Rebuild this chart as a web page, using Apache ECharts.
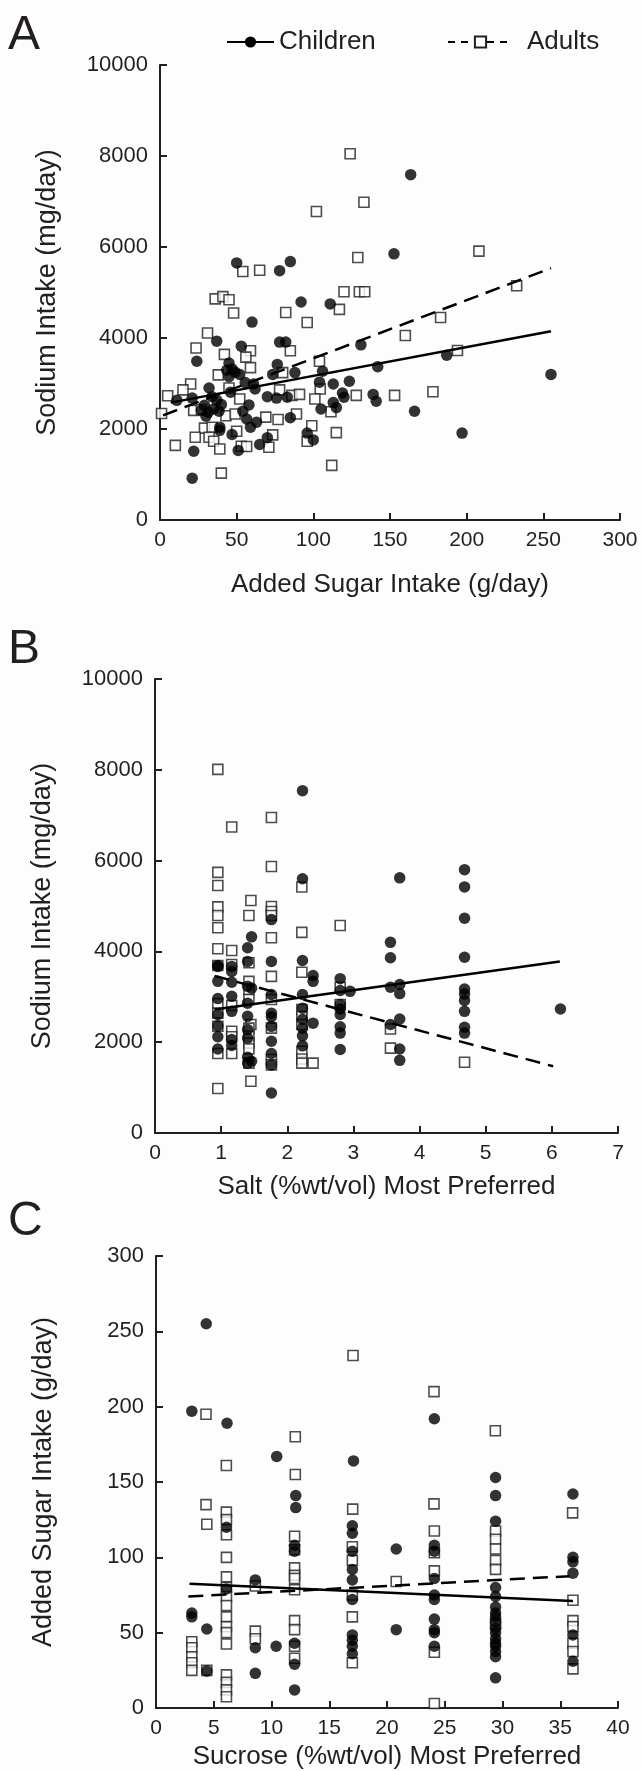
<!DOCTYPE html>
<html>
<head>
<meta charset="utf-8">
<script src="https://cdn.jsdelivr.net/npm/echarts@6/dist/echarts.min.js"></script>
<style>
html,body{margin:0;padding:0;background:#fdfdfd;}
#chart{width:642px;height:1771px;}
</style>
</head>
<body>
<div id="chart"></div>
<script>
// ---------- Panel A: Added sugar (g/day) vs Sodium (mg/day) ----------
const childrenA = [
 [50,5650],[78,5480],[85,5680],[92,4790],[111,4750],[60,4350],[37,3930],[53,3820],[78,3910],[82,3910],
 [24,3490],[45,3450],[43.5,3290],[47,3320],[49,3250],[45,3150],[52,3200],[76.5,3420],[73.5,3200],[88,3240],
 [106,3270],[55.6,3020],[61,2990],[62,2880],[32,2900],[46,2810],[11,2630],[21,2680],[34,2710],[37,2630],
 [40,2540],[29,2520],[27,2410],[31.5,2370],[30,2280],[35,2440],[38.5,2390],[58,2530],[54,2390],[56.5,2220],
 [59,2040],[63,2150],[70,2710],[76,2680],[83,2700],[85,2250],[104,3030],[113,2990],[105,2440],[113,2580],
 [39,2040],[39,1970],[47,1880],[51,1530],[65,1660],[70,1810],[96,1910],[100,1760],[22,1510],[21,920],
 [163.5,7590],[152.6,5850],[131,3850],[142,3370],[187,3620],[123.5,3050],[119,2790],[120,2700],[115,2470],
 [139,2760],[141,2610],[166,2390],[197,1910],[255,3200]
];
const adultsA = [
 [102,6780],[54,5460],[65,5490],[36,4860],[41,4910],[45,4840],[117,4630],[48,4550],[82,4560],[96,4340],
 [31,4110],[23.5,3780],[42,3640],[59,3720],[56,3580],[59,3350],[85,3720],[104,3490],[38,3190],[80,3240],
 [20,2990],[15,2860],[5,2730],[45,2900],[52,2660],[78,2860],[86,2740],[91,2760],[104.5,2880],[101,2660],
 [1,2340],[22,2410],[27,2430],[43,2290],[49,2330],[69,2260],[77,2210],[89,2330],[111.5,2380],[29,2020],
 [34,2040],[50,1950],[73.5,1870],[99,2070],[115,1920],[23,1820],[32,1820],[35,1730],[39,1560],[10,1640],
 [53,1620],[56.5,1615],[71,1600],[96,1730],[112,1200],[40,1030],
 [124,8050],[133,6985],[129,5770],[208,5910],[120,5015],[130,5015],[133.5,5015],[232.6,5150],[183,4450],
 [160,4055],[194,3725],[128,2740],[153,2740],[178,2820]
];
const fitChildrenA = [[7,2580],[255,4150]];
const fitAdultsA = [[2,2300],[255,5535]];

// ---------- Panel B: Salt preference vs Sodium (mg/day) ----------
const childrenB = [
 [0.95,3670],[0.95,3340],[0.95,2960],[0.95,2610],[0.95,2360],[0.95,2120],[0.95,1850],[0.95,3690],
 [1.16,3670],[1.16,3560],[1.16,3320],[1.16,3010],[1.16,2680],[1.16,2060],[1.16,1930],
 [1.40,4080],[1.40,3780],[1.40,3230],[1.40,2860],[1.40,2570],[1.40,2280],[1.40,2090],[1.40,1670],[1.40,1540],
 [1.46,4320],[1.46,3190],[1.46,1580],
 [1.76,4700],[1.76,3780],[1.76,3050],[1.76,2640],[1.76,2560],[1.76,2350],[1.76,2020],[1.76,1750],[1.76,1500],[1.76,880],
 [2.23,7540],[2.23,5600],[2.23,3800],[2.23,3050],[2.23,2750],[2.23,2500],[2.23,2310],[2.23,2140],[2.23,1920],
 [2.39,3470],[2.39,3340],[2.39,2420],
 [2.80,3400],[2.80,3140],[2.80,2830],[2.80,2730],[2.80,2610],[2.80,2340],[2.80,2200],[2.80,1840],[2.95,3120],
 [3.56,4200],[3.56,3860],[3.56,3210],[3.56,2390],
 [3.70,5620],[3.70,3270],[3.70,3070],[3.70,2510],[3.70,1850],[3.70,1600],
 [4.68,5800],[4.68,5420],[4.68,4730],[4.68,3870],[4.68,3170],[4.68,3060],[4.68,2920],[4.68,2680],[4.68,2330],[4.68,2200],
 [6.13,2730]
];
const adultsB = [
 [0.95,8010],[0.95,5740],[0.95,5450],[0.95,4980],[0.95,4790],[0.95,4520],[0.95,4060],[0.95,3690],[0.95,2850],[0.95,2640],[0.95,2350],[0.95,1750],[0.95,980],
 [1.16,6740],[1.16,4020],[1.16,3710],[1.16,2810],[1.16,2240],[1.16,2120],[1.16,1750],
 [1.45,5120],[1.42,4790],[1.42,3750],[1.42,3340],[1.42,3160],[1.42,2940],[1.45,2390],[1.42,2310],[1.42,2130],[1.42,1980],[1.42,1850],[1.42,1540],[1.45,1140],
 [1.76,6950],[1.76,5870],[1.76,4990],[1.76,4880],[1.76,4790],[1.76,4300],[1.76,3450],[1.76,2940],[1.76,2310],[1.76,1620],[1.76,1500],
 [2.22,5420],[2.22,4420],[2.22,3540],[2.22,2720],[2.22,2570],[2.22,2390],[2.22,1800],[2.22,1630],[2.22,1540],
 [2.39,1540],
 [2.80,4570],[2.80,3210],[2.80,2830],
 [3.56,2290],[3.56,1870],
 [4.68,1560]
];
const fitChildrenB = [[0.9,2720],[6.12,3780]];
const fitAdultsB = [[0.9,3460],[6.02,1470]];

// ---------- Panel C: Sucrose preference vs Added sugar (g/day) ----------
const childrenC = [
 [3.1,197],[3.1,63],[3.1,60.5],
 [4.35,255],[4.4,52.4],[4.4,24.5],
 [6.15,189],[6.1,120],[6.1,79],
 [8.6,85],[8.6,40],[8.6,23],
 [10.45,167],[10.4,41],
 [12.1,141],[12.1,133],[12.0,108],[12.0,104],[12.0,43],[12.0,29],[12.0,12],
 [17.1,164],[17.0,121],[17.0,116],[17.0,104],[17.0,92],[17.0,85],[17.0,72],[17.0,48.5],[17.0,45],[17.0,41],[17.0,36],
 [20.8,105.5],[20.8,52],
 [24.1,192],[24.1,108],[24.1,104],[24.1,86],[24.1,75],[24.1,72],[24.1,59],[24.1,52],[24.1,50],[24.1,41],
 [29.4,153],[29.4,141],[29.4,124],[29.4,80],[29.4,74],[29.4,67],[29.4,63],[29.4,60.5],[29.4,57],[29.4,53],[29.4,50],[29.4,46],[29.4,43],[29.4,41],[29.4,37.5],[29.4,34],[29.4,20],
 [36.1,142],[36.1,100],[36.1,97],[36.1,89.5],[36.1,48.5],[36.1,31]
];
const adultsC = [
 [3.1,44],[3.1,40],[3.1,34],[3.1,30],[3.1,25],
 [4.33,195],[4.33,135],[4.4,122],[4.4,25],
 [6.09,161],[6.09,130],[6.1,125],[6.1,115],[6.1,100],[6.1,87],[6.1,80],[6.1,74],[6.1,68],[6.1,60.5],[6.1,54],[6.1,50],[6.1,42.5],[6.1,22],[6.1,17],[6.1,12],[6.1,7.5],
 [8.6,81],[8.6,51],[8.6,46],
 [12.06,180],[12.06,155],[12.0,114],[12.0,105],[12.0,93],[12.0,88],[12.0,86],[12.0,78.5],[12.0,58],[12.0,52],[12.0,41],[12.0,33],
 [17.06,234],[17.03,132],[17.0,107],[17.0,98],[17.0,75],[17.0,60.5],[17.0,30],
 [20.8,84],
 [24.07,210],[24.07,135.5],[24.1,117.5],[24.1,103],[24.1,91],[24.1,37],[24.1,3],
 [29.38,184],[29.4,117.5],[29.4,112],[29.4,105.5],[29.4,98],[29.4,92],[29.4,56],
 [36.07,129.5],[36.1,71.5],[36.1,58],[36.1,54],[36.1,43],[36.1,37.5],[36.1,26]
];
const fitChildrenC = [[2.9,82.5],[36.1,71]];
const fitAdultsC = [[2.8,74],[35.8,87.5]];

// ---------- Axis texts ----------
const panelLetters = ['A','B','C'];
const xNames = ['Added Sugar Intake (g/day)','Salt (%wt/vol) Most Preferred','Sucrose (%wt/vol) Most Preferred'];
const yNames = ['Sodium Intake (mg/day)','Sodium Intake (mg/day)','Added Sugar Intake (g/day)'];
const xRanges = [[0,300,50],[0,7,1],[0,40,5]];
const yRanges = [[0,10000,2000],[0,10000,2000],[0,300,50]];

const INK = '#231f20';
const DOT = '#000000';
const FONT = '"Liberation Sans", Arial, Helvetica, sans-serif';

const grids = [
  {left:160, top:65, width:460, height:455},
  {left:155, top:679, width:463, height:454},
  {left:156, top:1256, width:462, height:456}
];
const xNameGaps = [52, 41, 36];

function xAxisFor(i){
  return {
    type:'value', gridIndex:i, min:xRanges[i][0], max:xRanges[i][1], interval:xRanges[i][2],
    name:xNames[i], nameLocation:'middle', nameGap:xNameGaps[i],
    nameTextStyle:{fontSize:26, color:INK, fontFamily:FONT},
    axisLine:{show:true, onZero:false, lineStyle:{color:INK, width:2}},
    axisTick:{show:true, inside:true, length:7, lineStyle:{color:INK, width:2}},
    axisLabel:{fontSize:21, color:INK, fontFamily:FONT, margin:10, formatter:(v)=>String(v)},
    splitLine:{show:false}
  };
}
function yAxisFor(i){
  return {
    type:'value', gridIndex:i, min:yRanges[i][0], max:yRanges[i][1], interval:yRanges[i][2],
    name:yNames[i], nameLocation:'middle', nameGap:99,
    nameTextStyle:{fontSize:27, color:INK, fontFamily:FONT},
    axisLine:{show:true, onZero:false, lineStyle:{color:INK, width:2}},
    axisTick:{show:true, inside:true, length:7, lineStyle:{color:INK, width:2}},
    axisLabel:{fontSize:22, color:INK, fontFamily:FONT, margin:12, formatter:(v)=>String(v)},
    splitLine:{show:false}
  };
}

const childPts = [childrenA, childrenB, childrenC];
const adultPts = [adultsA, adultsB, adultsC];
const childFits = [fitChildrenA, fitChildrenB, fitChildrenC];
const adultFits = [fitAdultsA, fitAdultsB, fitAdultsC];

const series = [];
for (let i=0;i<3;i++){
  series.push({
    name:'Children', type:'line', xAxisIndex:i, yAxisIndex:i, data:childFits[i],
    symbol:'circle', showSymbol:false, z:5, silent:true,
    itemStyle:{color:DOT},
    lineStyle:{color:DOT, width:2.5}
  });
  series.push({
    name:'Adults', type:'line', xAxisIndex:i, yAxisIndex:i, data:adultFits[i],
    symbol:'rect', showSymbol:false, z:5, silent:true,
    itemStyle:{color:'#fff', borderColor:INK, borderWidth:1.5},
    lineStyle:{color:DOT, width:2.5, type:[15,8]}
  });
}
for (let i=0;i<3;i++){
  series.push({
    name:'Adults', type:'scatter', xAxisIndex:i, yAxisIndex:i, data:adultPts[i],
    symbol:'rect', symbolSize:10, z:2,
    itemStyle:{color:'#fff', borderColor:INK, borderWidth:1.6}
  });
  series.push({
    name:'Children', type:'scatter', xAxisIndex:i, yAxisIndex:i, data:childPts[i],
    symbol:'circle', symbolSize:11.5, z:3,
    itemStyle:{color:DOT}
  });
}

const titleTops = [12, 626, 1198];
const option = {
  backgroundColor:'#fdfdfd',
  animation:false,
  title: panelLetters.map((t,i)=>({
    text:t, left:8, top:titleTops[i], padding:0,
    textStyle:{fontSize:48, fontWeight:'normal', color:INK, fontFamily:FONT}
  })),
  legend:[
    {data:[{name:'Children'}], left:221, top:24, itemWidth:47, itemHeight:14, itemGap:0,
     selectedMode:false, textStyle:{fontSize:26, color:INK, fontFamily:FONT}},
    {data:[{name:'Adults', lineStyle:{type:[7,6]}}], left:442, top:24, itemWidth:65, itemHeight:14, itemGap:0,
     selectedMode:false, textStyle:{fontSize:26, color:INK, fontFamily:FONT, padding:[0,0,0,9]}}
  ],
  grid: grids,
  xAxis: [0,1,2].map(xAxisFor),
  yAxis: [0,1,2].map(yAxisFor),
  series: series
};
const chart = echarts.init(document.getElementById('chart'), null, {renderer:'canvas'});
chart.setOption(option);
</script>
</body>
</html>
